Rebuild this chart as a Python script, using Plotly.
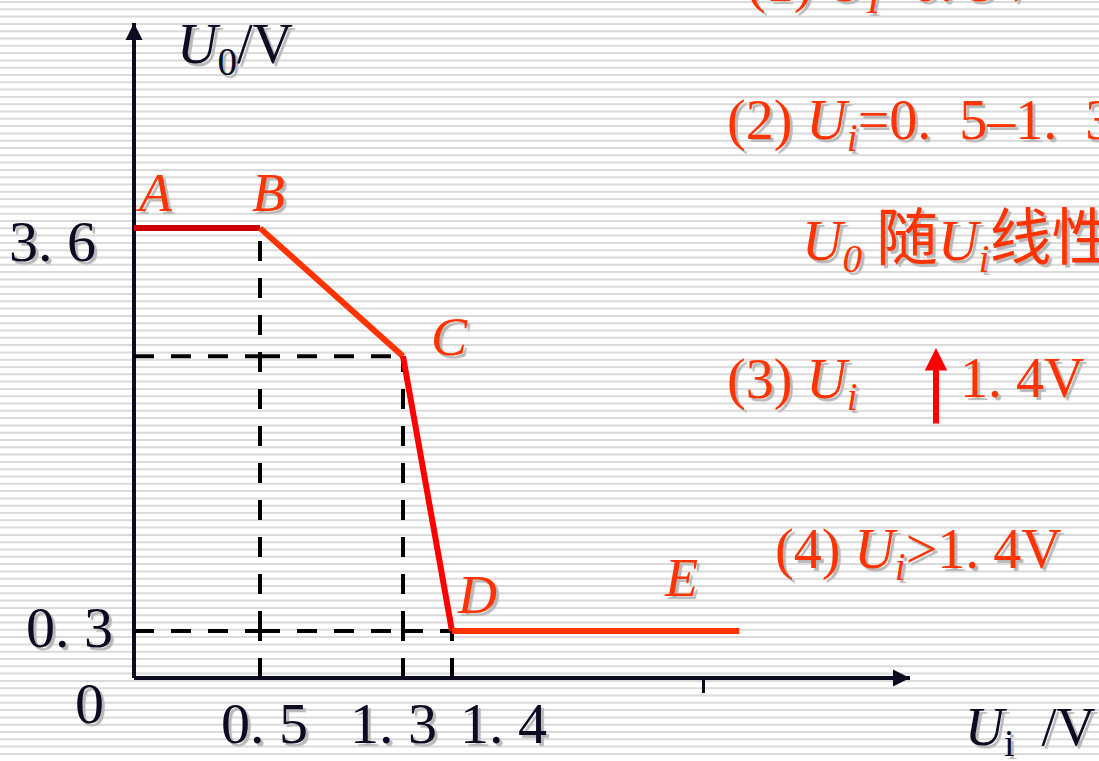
import plotly.graph_objects as go

# ---------------- data ----------------
ui_points = [0.0, 0.5, 1.3, 1.4, 3.0]        # U_i (V) at A, B, C, D, E
uo_points = [3.6, 3.6, 2.55, 0.3, 0.3]       # U_0 (V) at A, B, C, D, E
point_names = ["A", "B", "C", "D", "E"]
segment_colors = ["#cc0000", "#ff3300", "#ff0000", "#ff3300"]
x_tick_values = [0.5, 1.3, 1.4]
x_tick_labels = ["0. 5", "1. 3", "1. 4"]
y_tick_values = [3.6, 0.3]
y_tick_labels = ["3. 6", "0. 3"]
x_minor_ticks = [2.8]
x_axis_end = 3.95
y_axis_end = 5.28

# ---------------- schematic (not-to-scale) axis layout ----------------
W, H = 1099, 761
x_breaks = [0.0, 0.5, 1.3, 1.4, x_axis_end]
x_break_px = [134, 260, 403, 452, 910]
y_breaks = [0.0, 0.3, y_axis_end]
y_break_px = [678, 631, 23]          # pixels from the top
M = 14                               # overlap margin between pieces (px)

DARK = "#0b0b22"
RED = "#ff3300"
SERIF = "Liberation Serif, Noto Sans CJK SC, serif"
SHADOW = "3px 3px 1px #b8b8b8"
NB = "\u00a0"

fig = go.Figure()
layout_axes = {}

x_ids, y_ids = [], []
nx = len(x_breaks) - 1
for k in range(nx):
    v0, v1 = x_breaks[k], x_breaks[k + 1]
    p0, p1 = x_break_px[k], x_break_px[k + 1]
    s = (p1 - p0) / (v1 - v0)
    e0 = 0 if k == 0 else p0 - M
    e1 = W if k == nx - 1 else p1 + M
    rng = [v0 - (p0 - e0) / s, v1 + (e1 - p1) / s]
    dom = [e0 / W, e1 / W]
    key = "xaxis" if k == 0 else f"xaxis{k + 1}"
    x_ids.append("x" if k == 0 else f"x{k + 1}")
    ax = dict(range=rng, domain=dom, visible=False, anchor="free", position=0,
              showgrid=False, zeroline=False, fixedrange=True)
    if k == nx - 1:
        ax.update(visible=True, showline=False, showticklabels=False, ticks="outside",
                  tickvals=x_minor_ticks, ticklen=14, tickwidth=3, tickcolor=DARK,
                  position=1 - y_break_px[0] / H)
    layout_axes[key] = ax

ny = len(y_breaks) - 1
for m in range(ny):
    v0, v1 = y_breaks[m], y_breaks[m + 1]
    p0, p1 = y_break_px[m], y_break_px[m + 1]
    s = (p0 - p1) / (v1 - v0)
    e0 = H if m == 0 else p0 + M
    e1 = 0 if m == ny - 1 else p1 - M
    rng = [v0 - (e0 - p0) / s, v1 + (p1 - e1) / s]
    dom = [1 - e0 / H, 1 - e1 / H]
    key = "yaxis" if m == 0 else f"yaxis{m + 1}"
    y_ids.append("y" if m == 0 else f"y{m + 1}")
    layout_axes[key] = dict(range=rng, domain=dom, visible=False, anchor="free",
                            position=0, showgrid=False, zeroline=False, fixedrange=True)


def piece(a, b, breaks):
    mid = (a + b) / 2
    for k in range(len(breaks) - 1):
        if breaks[k] <= mid <= breaks[k + 1]:
            return k
    return 0 if mid < breaks[0] else len(breaks) - 2


def add_path(xs, ys, color, width, dash="solid"):
    for xa, ya, xb, yb in zip(xs[:-1], ys[:-1], xs[1:], ys[1:]):
        ts = {0.0, 1.0}
        for b in x_breaks[1:-1]:
            if (xa - b) * (xb - b) < 0:
                ts.add((b - xa) / (xb - xa))
        for b in y_breaks[1:-1]:
            if (ya - b) * (yb - b) < 0:
                ts.add((b - ya) / (yb - ya))
        ts = sorted(ts)
        for t0, t1 in zip(ts[:-1], ts[1:]):
            x0, x1 = xa + (xb - xa) * t0, xa + (xb - xa) * t1
            y0, y1 = ya + (yb - ya) * t0, ya + (yb - ya) * t1
            kx, ky = piece(x0, x1, x_breaks), piece(y0, y1, y_breaks)
            fig.add_trace(go.Scatter(
                x=[x0, x1], y=[y0, y1], xaxis=x_ids[kx], yaxis=y_ids[ky],
                mode="lines", line=dict(color=color, width=width, dash=dash),
                hoverinfo="skip", showlegend=False))


def ref_of(xv, yv):
    return x_ids[piece(xv, xv, x_breaks)], y_ids[piece(yv, yv, y_breaks)]


# ---- background stripes ----
shapes = []
yy = 2.0
while yy < H:
    shapes.append(dict(type="line", xref="paper", yref="paper", x0=0, x1=1,
                       y0=1 - yy / H, y1=1 - yy / H, layer="below",
                       line=dict(color="#dadada", width=2)))
    yy += 7.3

# ---- axes ----
add_path([0, x_axis_end], [0, 0], DARK, 4)
add_path([0, 0], [0, y_axis_end], DARK, 4)

# ---- dashed guides ----
DASH = "20px,17px"
for i in (1, 2, 3):
    add_path([ui_points[i], ui_points[i]], [0, uo_points[i]], "#000000", 4, DASH)
for i in (2, 3):
    add_path([0, ui_points[i]], [uo_points[i], uo_points[i]], "#000000", 4, DASH)

# ---- characteristic curve ----
for i in range(len(ui_points) - 1):
    add_path(ui_points[i:i + 2], uo_points[i:i + 2], segment_colors[i], 6)

annotations = []
# arrowheads of the axes
xr, yr = ref_of(x_axis_end, 0)
annotations.append(dict(x=x_axis_end, y=0, xref=xr, yref=yr, ax=-30, ay=0,
                        showarrow=True, arrowhead=2, arrowsize=0.85, arrowwidth=4,
                        arrowcolor=DARK, text=""))
xr, yr = ref_of(0, y_axis_end)
annotations.append(dict(x=0, y=y_axis_end, xref=xr, yref=yr, ax=0, ay=30,
                        showarrow=True, arrowhead=2, arrowsize=0.85, arrowwidth=4,
                        arrowcolor=DARK, text=""))

# point labels
label_shift = {"A": (20, 35), "B": (8, 35), "C": (46, 19), "D": (25, 36), "E": (-58, 53)}
for name, xv, yv in zip(point_names, ui_points, uo_points):
    xr, yr = ref_of(xv, yv)
    dx, dy = label_shift[name]
    annotations.append(dict(x=xv, y=yv, xref=xr, yref=yr, xshift=dx, yshift=dy,
                            showarrow=False, text=name,
                            font=dict(family=SERIF, size=54, color=RED,
                                      style="italic", shadow=SHADOW)))

# tick labels
TICKFONT = dict(family=SERIF, size=58, color=DARK, shadow=SHADOW)
y_label_shift = [(-36, -13), (-19, 4)]
for v, t, (dx, dy) in zip(y_tick_values, y_tick_labels, y_label_shift):
    xr, yr = ref_of(0, v)
    annotations.append(dict(x=0, y=v, xref=xr, yref=yr, xanchor="right",
                            xshift=dx, yshift=dy, showarrow=False, text=t, font=TICKFONT))
x_label_shift = [4, -10, 51]
for v, t, dx in zip(x_tick_values, x_tick_labels, x_label_shift):
    xr, yr = ref_of(v, 0)
    annotations.append(dict(x=v, y=0, xref=xr, yref=yr, xshift=dx, yshift=-45,
                            showarrow=False, text=t, font=TICKFONT))
xr, yr = ref_of(0, 0)
annotations.append(dict(x=0, y=0, xref=xr, yref=yr, xshift=-45, yshift=-25,
                        showarrow=False, text="0", font=TICKFONT))

# axis titles
annotations.append(dict(x=175 / W, y=1 - 48 / H, xref="paper", yref="paper",
                        xanchor="left", yanchor="middle", showarrow=False,
                        text="<i>U</i><sub>0</sub>/V",
                        font=dict(family=SERIF, size=56, color=DARK, shadow=SHADOW)))
annotations.append(dict(x=963 / W, y=1 - 730 / H, xref="paper", yref="paper",
                        xanchor="left", yanchor="middle", showarrow=False,
                        text="<i>U</i><sub>i</sub>" + NB + " /V",
                        font=dict(family=SERIF, size=54, color=DARK, shadow=SHADOW)))

# explanatory notes on the right
NOTEFONT = dict(family=SERIF, size=56, color=RED, shadow=SHADOW)
CJK = '<span style="font-size:62px">{}</span>'
notes = [
    ("(1) <i>U</i><sub><i>I</i></sub><0. 5V", 745, -14),
    ("(2) <i>U</i><sub><i>i</i></sub>=0." + NB + " 5–1." + NB + " 3V", 725, 124),
    ("<i>U</i><sub><i>0</i></sub> " + CJK.format("随") + "<i>U</i><sub><i>i</i></sub>"
     + CJK.format("线性变化"), 800, 242),
    ("(3) <i>U</i><sub><i>i</i></sub>", 725, 383),
    ("1. 4V", 958, 378),
    ("(4) <i>U</i><sub><i>i</i></sub>>1. 4V", 773, 553),
]
for text, px, py in notes:
    annotations.append(dict(x=px / W, y=1 - py / H, xref="paper", yref="paper",
                            xanchor="left", yanchor="middle", showarrow=False,
                            text=text, font=NOTEFONT))
# red "rising" arrow
annotations.append(dict(x=936 / W, y=1 - 348 / H, xref="paper", yref="paper",
                        ax=0, ay=77, showarrow=True, arrowhead=2, arrowsize=0.75,
                        arrowwidth=6, arrowcolor="#ff0000", text=""))

layout_axes.update(dict(
    width=W, height=H, margin=dict(l=0, r=0, t=0, b=0),
    paper_bgcolor="white", plot_bgcolor="rgba(0,0,0,0)",
    template="none", showlegend=False,
    shapes=shapes, annotations=annotations,
))
fig.update_layout(**layout_axes)
fig.write_html("out.html", config={"displayModeBar": False, "staticPlot": True},
               post_script="document.body.style.margin='0';document.body.style.overflow='hidden';")
